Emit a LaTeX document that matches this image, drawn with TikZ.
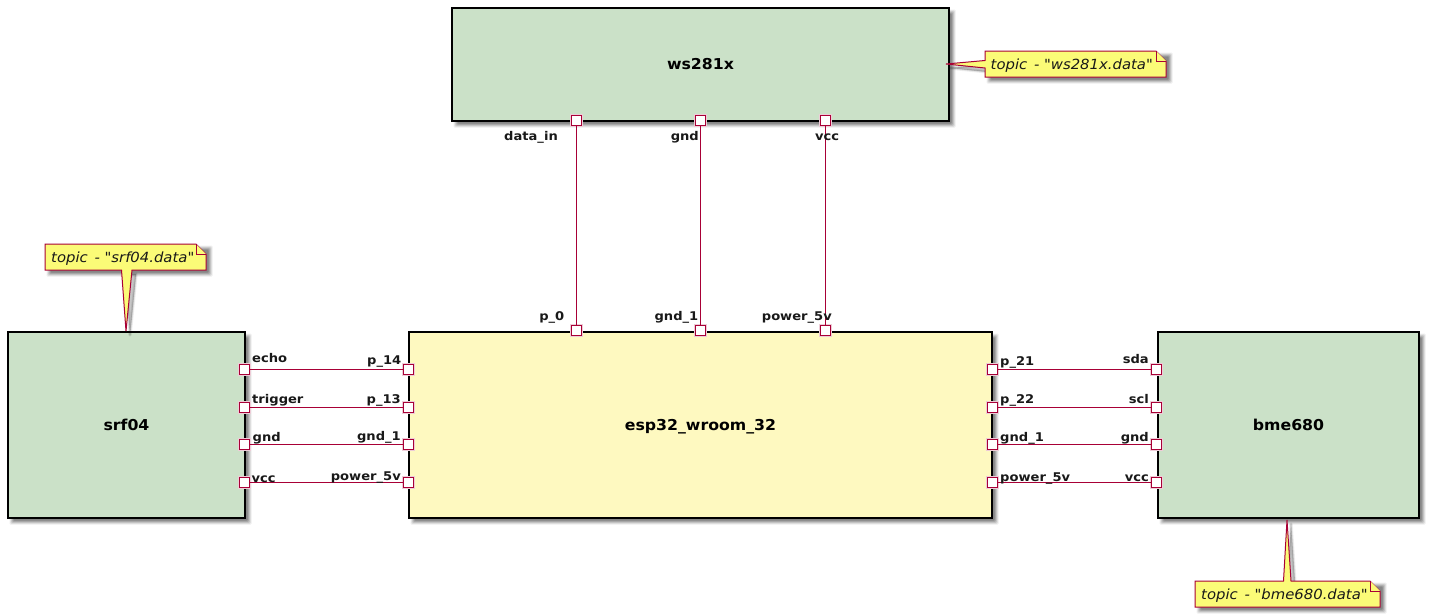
\documentclass[tikz,border=0pt]{standalone}
\usepackage{fontspec}
\setmainfont{DejaVu Sans}
\newfontfamily\portfont[FakeStretch=1.09]{DejaVu Sans}
\newfontfamily\titlefont[FakeStretch=1.05]{DejaVu Sans}
\newfontfamily\notefont[FakeStretch=1.06]{DejaVu Sans}
\definecolor{lineC}{HTML}{A80036}
\definecolor{greenC}{HTML}{CBE1C8}
\definecolor{yellowC}{HTML}{FEF9C0}
\definecolor{noteC}{HTML}{FBFB77}
\newcommand{\softshadow}[4]{%
  \foreach \g/\o in {2.5/0.07,1.5/0.1,0.5/0.12,-0.5/0.15,-1.5/0.15}{%
    \fill[black,opacity=\o,rounded corners=1pt] (#1+4-\g,#2+4-\g) rectangle (#3+4+\g,#4+4+\g);}}
\newcommand{\softtail}[6]{%
  \foreach \w/\o in {3.5/0.06,2/0.08,0.6/0.1}{%
    \filldraw[black,opacity=\o,line width=\w pt,line join=round] (#1+4,#2+4) -- (#3+4,#4+4) -- (#5+4,#6+4) -- cycle;}}
\tikzset{
  x=1pt,y=-1pt,
  box/.style={draw=black,line width=1.1pt,inner sep=0pt,outer sep=0pt,text height=12pt,text depth=2pt,font=\titlefont\bfseries\fontsize{15}{17}\selectfont,text=black},
  green/.style={fill=greenC},
  yellow/.style={fill=yellowC},
  port/.style={preaction={draw=lineC!20,line width=3pt},draw=lineC,line width=1.5pt,fill=white,minimum size=10pt,inner sep=0pt,outer sep=0pt},
  plab/.style={font=\portfont\bfseries\fontsize{12}{14}\selectfont,inner sep=0pt,text=black!90},
  wire/.style={draw=lineC,line width=1pt},
  notetext/.style={font=\notefont\itshape\fontsize{14}{16}\selectfont,inner sep=0pt,anchor=base west,text=black!90},
  noteline/.style={draw=lineC,line width=1pt,fill=noteC,line join=miter},
  fold/.style={draw=lineC,line width=1pt,fill=noteC},
}
\begin{document}
\begin{tikzpicture}
\useasboundingbox (0,0) rectangle (1429,613);
\fill[white] (0,0) rectangle (1429,613);
% box shadows
\softshadow{452}{8}{949}{121}
\softshadow{8}{332}{245}{518}
\softshadow{409}{332}{992}{518}
\softshadow{1158}{332}{1419}{518}
% boxes
\node[box,green,minimum width=497pt,minimum height=113pt,anchor=north west] (ws) at (452,8) {ws281x};
\node[box,green,minimum width=237pt,minimum height=186pt,anchor=north west] (srf) at (8,332) {srf04};
\node[box,yellow,minimum width=583pt,minimum height=186pt,anchor=north west] (esp) at (409,332) {esp32\_wroom\_32};
\node[box,green,minimum width=261pt,minimum height=186pt,anchor=north west] (bme) at (1158,332) {bme680};
% note shadows
\softshadow{985}{51}{1166}{77}
\softshadow{45}{244}{206}{270}
\softshadow{1195}{581}{1380}{607}
\softtail{132}{270}{126}{331}{121.5}{270}
\softtail{1283.5}{581}{1287}{520}{1291}{581}
\softtail{985}{68}{946}{64}{985}{60.5}
% notes
\draw[noteline] (985,51) -- (1156,51) -- (1166,61) -- (1166,77) -- (985,77) -- (985,68) -- (946,64) -- (985,60.5) -- cycle;
\draw[fold] (1156,51) -- (1156,61) -- (1166,61);
\node[notetext] (n1) at (990.5,69) {topic\ \kern2pt- "ws281x.data"};
\draw[noteline] (45,244) -- (196,244) -- (206,254) -- (206,270) -- (132,270) -- (126,331) -- (121.5,270) -- (45,270) -- cycle;
\draw[fold] (196,244) -- (196,254) -- (206,254);
\node[notetext] (n2) at (51,262) {topic\ \kern2pt- "srf04.data"};
\draw[noteline] (1195,581) -- (1283.5,581) -- (1287,520) -- (1291,581) -- (1370,581) -- (1380,591) -- (1380,607) -- (1195,607) -- cycle;
\draw[fold] (1370,581) -- (1370,591) -- (1380,591);
\node[notetext] (n3) at (1201,599) {topic\ \kern2pt- "bme680.data"};
% ports
\foreach \n/\x/\y in {wa/576.5/120.5,wb/700.5/120.5,wc/825.5/120.5,
  ea/576.5/330.5,eb/700.5/330.5,ec/825.5/330.5,
  s1/244.5/369.5,s2/244.5/407.5,s3/244.5/444.5,s4/244.5/482.5,
  l1/408.5/369.5,l2/408.5/407.5,l3/408.5/444.5,l4/408.5/482.5,
  r1/992.5/369.5,r2/992.5/407.5,r3/992.5/444.5,r4/992.5/482.5,
  b1/1156.5/369.5,b2/1156.5/407.5,b3/1156.5/444.5,b4/1156.5/482.5}{
  \node[port] (\n) at (\x,\y) {};
}
% wires
\foreach \a/\b in {wa/ea,wb/eb,wc/ec,s1/l1,s2/l2,s3/l3,s4/l4,r1/b1,r2/b2,r3/b3,r4/b4}{
  \draw[wire] (\a) -- (\b);
}
% labels
\node[plab,anchor=base east] (t1) at (558,140) {data\_in};
\node[plab,anchor=base east] (t2) at (699,140) {gnd};
\node[plab,anchor=base west] (t3) at (815,140) {vcc};
\node[plab,anchor=base east] (t4) at (564.5,320.5) {p\_0};
\node[plab,anchor=base east] (t5) at (698.5,320.5) {gnd\_1};
\node[plab,anchor=base east] (t6) at (832,320.5) {power\_5v};
\node[plab,anchor=base west] (a1) at (252,362) {echo};
\node[plab,anchor=base west] (a2) at (252,403) {trigger};
\node[plab,anchor=base west] (a3) at (252.5,441.5) {gnd};
\node[plab,anchor=base west] (a4) at (251.5,482) {vcc};
\node[plab,anchor=base east] (c1) at (401.5,364) {p\_14};
\node[plab,anchor=base east] (c2) at (401,403) {p\_13};
\node[plab,anchor=base east] (c3) at (401,440.5) {gnd\_1};
\node[plab,anchor=base east] (c4) at (401,480) {power\_5v};
\node[plab,anchor=base west] (d1) at (1000,365) {p\_21};
\node[plab,anchor=base west] (d2) at (1000,403) {p\_22};
\node[plab,anchor=base west] (d3) at (1000,441) {gnd\_1};
\node[plab,anchor=base west] (d4) at (1000,481) {power\_5v};
\node[plab,anchor=base east] (e1) at (1149,363) {sda};
\node[plab,anchor=base east] (e2) at (1149,403) {scl};
\node[plab,anchor=base east] (e3) at (1149,441) {gnd};
\node[plab,anchor=base east] (e4) at (1149,481) {vcc};
\end{tikzpicture}
\end{document}
